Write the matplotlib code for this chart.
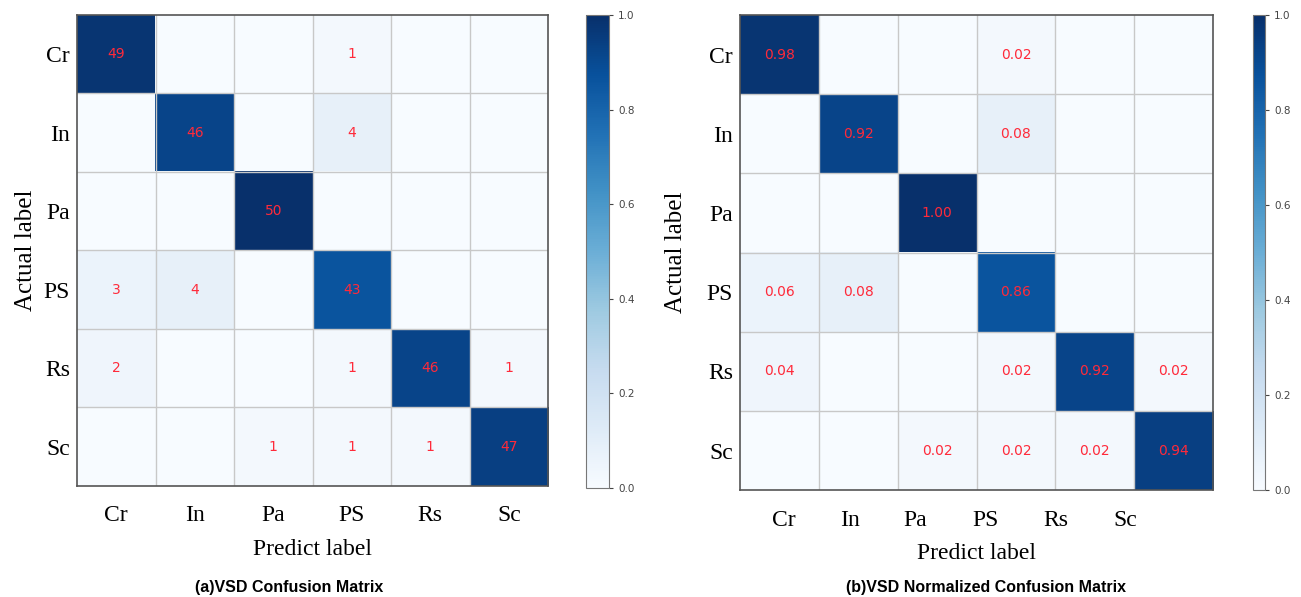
import numpy as np
from matplotlib import pyplot as plt

plt.rcParams['font.family'] = ['Liberation Serif', 'DejaVu Serif']

labels = ['Cr', 'In', 'Pa', 'PS', 'Rs', 'Sc']

# 混淆矩阵（行：真实标签，列：预测标签）
cm_counts = np.array([
    [49, 0, 0, 1, 0, 0],
    [0, 46, 0, 4, 0, 0],
    [0, 0, 50, 0, 0, 0],
    [3, 4, 0, 43, 0, 0],
    [2, 0, 0, 1, 46, 1],
    [0, 0, 1, 1, 1, 47],
])
cm_norm = np.array([
    [0.98, 0.00, 0.00, 0.02, 0.00, 0.00],
    [0.00, 0.92, 0.00, 0.08, 0.00, 0.00],
    [0.00, 0.00, 1.00, 0.00, 0.00, 0.00],
    [0.06, 0.08, 0.00, 0.86, 0.00, 0.00],
    [0.04, 0.00, 0.00, 0.02, 0.92, 0.02],
    [0.00, 0.00, 0.02, 0.02, 0.02, 0.94],
])
# 右图x轴刻度标签位置（原图略有偏移）
right_xtick_pos = [0.05, 0.9, 1.72, 2.61, 3.5, 4.39]


def draw_cm(fig, ax_rect, cb_rect, shade, texts, caption, caption_x, xticks_pos, ylabelpad):
    ax = fig.add_axes(ax_rect)
    cax = fig.add_axes(cb_rect)
    im = ax.imshow(shade, cmap='Blues', vmin=0, vmax=1, aspect='auto')
    n = len(labels)
    for i in range(n):
        for j in range(n):
            if texts[i][j] != '':
                ax.text(j, i, texts[i][j], ha='center', va='center', color='#ff2a3a',
                        fontsize=10, family='DejaVu Sans')
    # 网格线
    for k in range(1, n):
        ax.axhline(k - 0.5, color='#c8c8c8', lw=1)
        ax.axvline(k - 0.5, color='#c8c8c8', lw=1)
    ax.set_xticks(xticks_pos)
    ax.set_xticklabels(labels, fontsize=17)
    ax.set_yticks(range(n))
    ax.set_yticklabels(labels, fontsize=17)
    ax.tick_params(length=0, pad=14, axis='x')
    ax.tick_params(length=0, pad=5, axis='y')
    for s in ax.spines.values():
        s.set_color('#555555')
        s.set_linewidth(1.2)
    ax.set_xlabel('Predict label', fontsize=17, labelpad=9)
    ax.set_ylabel('Actual label', fontsize=18, labelpad=ylabelpad)

    cb = fig.colorbar(im, cax=cax, ticks=[0, 0.2, 0.4, 0.6, 0.8, 1.0])
    cb.ax.tick_params(labelsize=7.5, labelcolor='#444444', length=3, color='#444444')
    for t in cb.ax.get_yticklabels():
        t.set_family('DejaVu Sans')
    cb.outline.set_edgecolor('#777777')

    fig.text(caption_x, 0.004, caption, ha='center', va='bottom', fontsize=11.5,
             fontweight='bold', family='Liberation Sans')
    return ax


def main():
    fig = plt.figure(figsize=(13.01, 5.97), dpi=100)

    count_text = [[str(v) if v > 0 else '' for v in row] for row in cm_counts]
    norm_text = [['%.2f' % v if v > 0 else '' for v in row] for row in cm_norm]

    draw_cm(fig, [0.0592, 0.186, 0.3621, 0.789], [0.4505, 0.1826, 0.0177, 0.7923],
            cm_counts / 50.0, count_text, '(a)VSD Confusion Matrix', 0.222,
            list(range(len(labels))), 5)
    draw_cm(fig, [0.5688, 0.179, 0.3636, 0.7956], [0.9631, 0.179, 0.0092, 0.7956],
            cm_norm, norm_text, '(b)VSD Normalized Confusion Matrix', 0.758,
            right_xtick_pos, 14)

    plt.savefig('out.png', dpi=100)


if __name__ == '__main__':
    main()
